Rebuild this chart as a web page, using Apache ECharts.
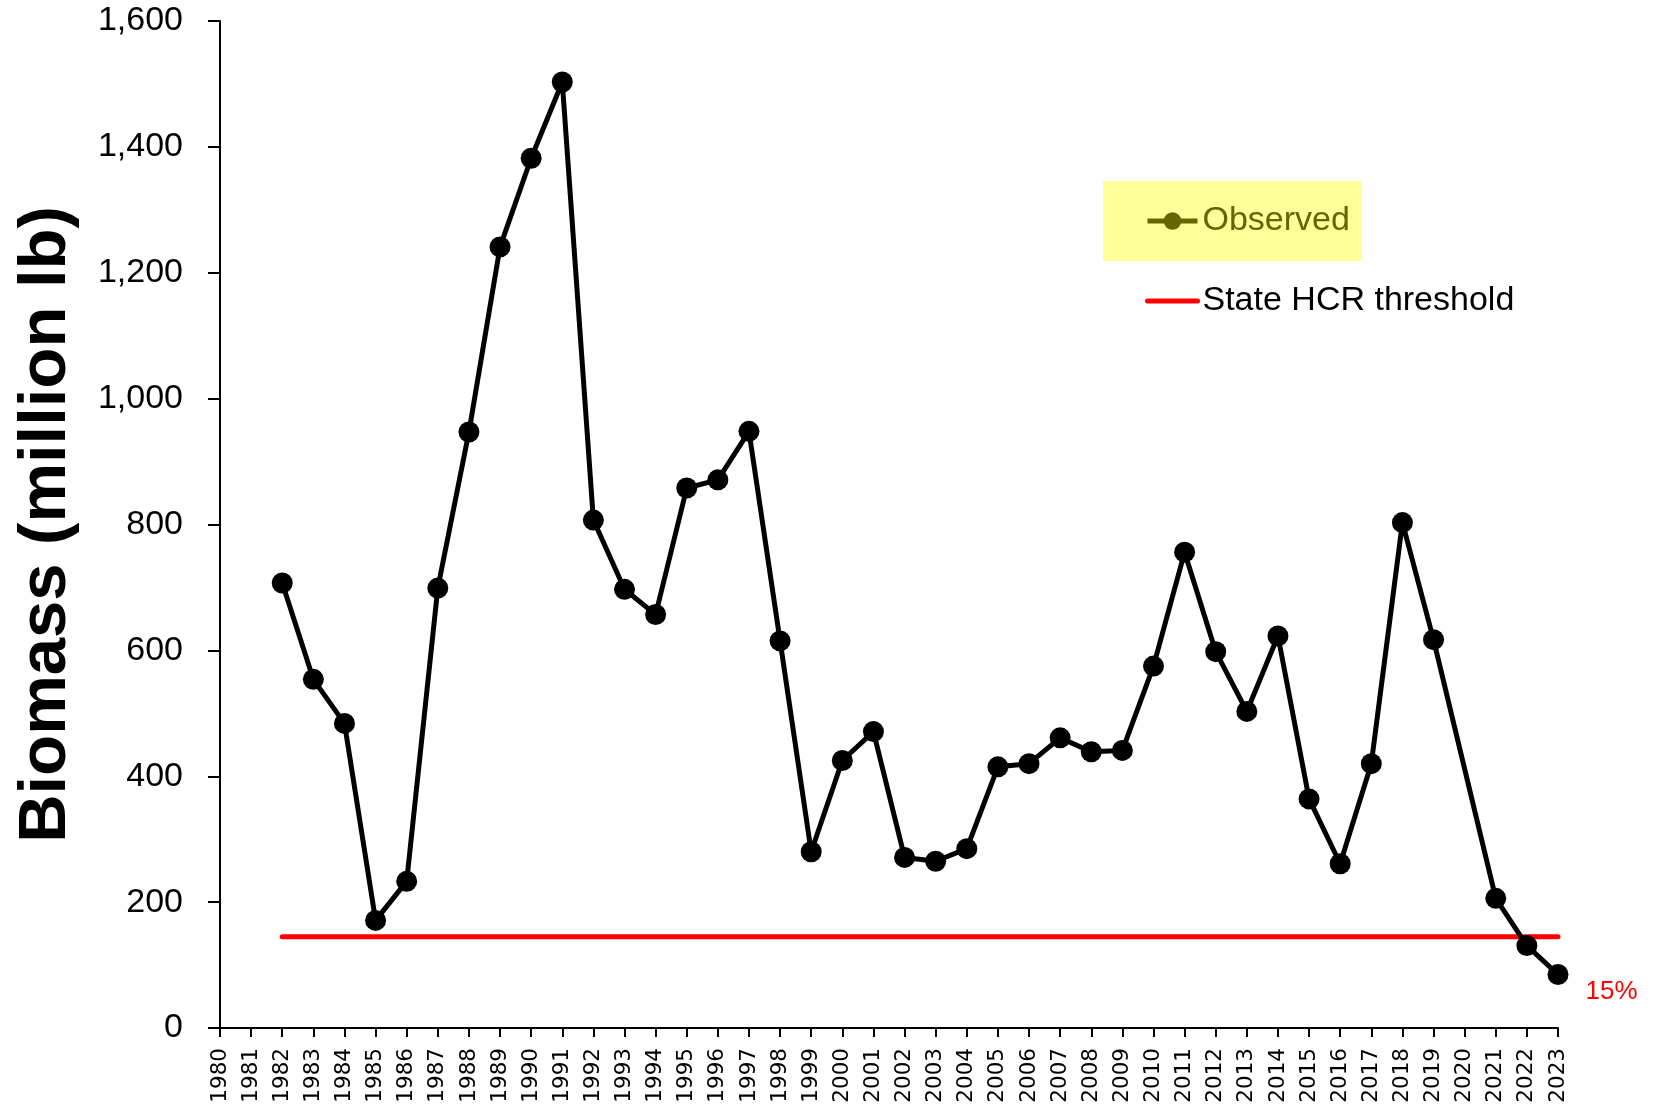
<!DOCTYPE html>
<html>
<head>
<meta charset="utf-8">
<script src="https://cdn.jsdelivr.net/npm/echarts@6/dist/echarts.min.js"></script>
<style>
  html, body { margin: 0; padding: 0; background: #fff; }
  #chart { width: 1653px; height: 1107px; }
</style>
</head>
<body>
<div id="chart"></div>
<script>
  // years on the x axis
  const years = []
  for (let y = 1980; y <= 2023; y++) years.push(String(y))

  // observed biomass (million lb); null = no survey
  const observed = [
    null, null, 707, 554, 484, 171, 233, 699, 947, 1241,
    1382, 1503, 807, 697, 657, 858, 871, 948, 615, 280,
    425, 471, 271, 265, 285, 415, 420, 461, 439, 441,
    575, 756, 598, 503, 623, 364, 261, 420, 803, 617,
    null, 206, 131, 85
  ]

  // state harvest control rule threshold
  const thresholdValue = 145
  const thresholdStart = '1982'
  const lastLabel = '15%'

  const threshold = years.map(y => (Number(y) >= Number(thresholdStart) ? thresholdValue : null))

  const observedData = observed.map((v, i) => {
    if (i === observed.length - 1) {
      return {
        value: v,
        label: {
          show: true,
          formatter: lastLabel,
          position: 'right',
          offset: [12, 17],
          color: '#ff0000',
          fontSize: 26,
          fontFamily: 'Liberation Sans'
        }
      }
    }
    return v
  })

  const chart = echarts.init(document.getElementById('chart'))

  const option = {
    animation: false,
    backgroundColor: '#ffffff',
    textStyle: { fontFamily: 'Liberation Sans', color: '#000' },
    grid: { left: 220, right: 95, top: 21, bottom: 79 },
    legend: [
      {
        left: 1103,
        top: 181,
        orient: 'vertical',
        backgroundColor: '#ffff99',
        padding: [23, 12, 23, 42],
        itemWidth: 50,
        itemHeight: 22,
        textStyle: { color: '#666600', fontSize: 34, fontFamily: 'Liberation Sans' },
        data: [{
          name: 'Observed',
          itemStyle: { color: '#666600' },
          lineStyle: { color: '#666600', width: 5 }
        }]
      },
      {
        left: 1145,
        top: 284,
        padding: 0,
        itemWidth: 50,
        itemHeight: 22,
        textStyle: { color: '#000', fontSize: 34, fontFamily: 'Liberation Sans' },
        data: [{
          name: 'State HCR threshold',
          itemStyle: { opacity: 0 },
          lineStyle: { color: '#ff0000', width: 5 }
        }]
      }
    ],
    xAxis: {
      type: 'category',
      data: years,
      boundaryGap: false,
      axisLine: { lineStyle: { color: '#000', width: 2 } },
      axisTick: { show: true, length: 9, interval: 0, lineStyle: { color: '#000', width: 2 } },
      axisLabel: {
        interval: 0,
        rotate: 90,
        margin: 20,
        fontSize: 21.5,
        fontFamily: 'DejaVu Sans',
        color: '#000'
      },
      splitLine: { show: false }
    },
    yAxis: {
      type: 'value',
      min: 0,
      max: 1600,
      interval: 200,
      name: 'Biomass (million lb)',
      nameLocation: 'middle',
      nameGap: 140,
      nameTextStyle: { fontSize: 67, fontWeight: 'bold', color: '#000', fontFamily: 'Liberation Sans' },
      axisLine: { show: true, lineStyle: { color: '#000', width: 2 } },
      axisTick: { show: true, length: 12, lineStyle: { color: '#000', width: 2 } },
      axisLabel: {
        margin: 37,
        fontSize: 34,
        color: '#000',
        formatter: v => v.toLocaleString('en-US')
      },
      splitLine: { show: false }
    },
    series: [
      {
        name: 'Observed',
        type: 'line',
        data: observedData,
        connectNulls: true,
        symbol: 'circle',
        symbolSize: 21,
        itemStyle: { color: '#000' },
        lineStyle: { color: '#000', width: 5 },
        z: 3
      },
      {
        name: 'State HCR threshold',
        type: 'line',
        data: threshold,
        symbol: 'none',
        itemStyle: { color: '#ff0000' },
        lineStyle: { color: '#ff0000', width: 5, cap: 'round' },
        z: 2
      }
    ]
  }

  chart.setOption(option)
</script>
</body>
</html>
